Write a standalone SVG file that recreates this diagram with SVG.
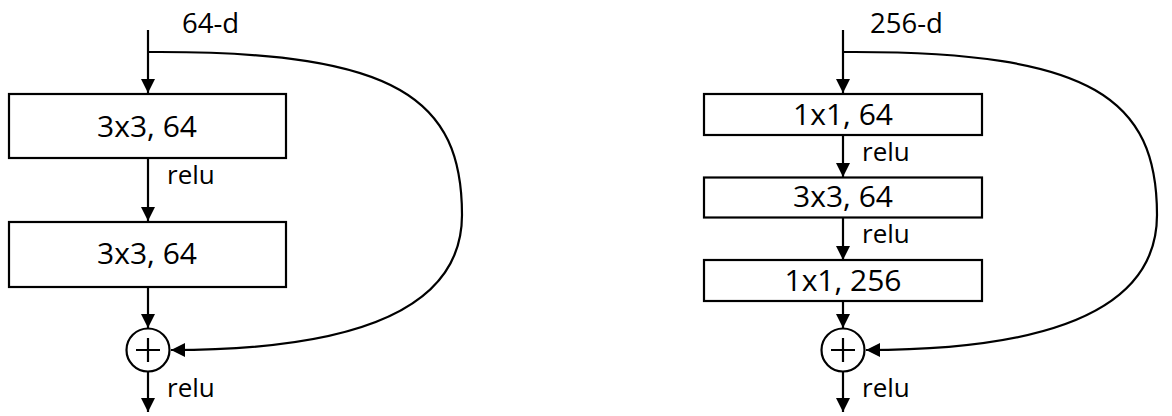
<svg xmlns="http://www.w3.org/2000/svg" width="1172" height="416" viewBox="0 0 1172 416">
<style>
.box{fill:#fff;stroke:#000;stroke-width:2.2}
.ln{fill:none;stroke:#000;stroke-width:2.2}
.t{font-family:"Open Sans","Liberation Sans",sans-serif;fill:#000}
.bt{font-size:30px;text-anchor:middle}
.lb{font-size:26px}
.hd{font-size:27.5px}
</style>
<defs>
<marker id="ah" markerUnits="userSpaceOnUse" markerWidth="14" markerHeight="14" refX="14" refY="7" orient="auto" viewBox="0 0 14 14">
<path d="M0,0 L14,7 L0,14 z" fill="#000"/>
</marker>
</defs>
<rect width="1172" height="416" fill="#fff"/>
<g id="connectors">
<path class="ln" d="M148,30 V93" marker-end="url(#ah)"/>
<path class="ln" d="M148,158 V221" marker-end="url(#ah)"/>
<path class="ln" d="M148,287 V328" marker-end="url(#ah)"/>
<path class="ln" d="M148,371 V412" marker-end="url(#ah)"/>
<path class="ln" d="M148,52 H160 C397,52 462,99 462,215 C462,283 407,350 171,350" marker-end="url(#ah)"/>
<path class="ln" d="M843,30 V93" marker-end="url(#ah)"/>
<path class="ln" d="M843,135 V177" marker-end="url(#ah)"/>
<path class="ln" d="M843,218 V260" marker-end="url(#ah)"/>
<path class="ln" d="M843,301 V328" marker-end="url(#ah)"/>
<path class="ln" d="M843,371 V412" marker-end="url(#ah)"/>
<path class="ln" d="M843,52 H855 C1092,52 1157,99 1157,215 C1157,283 1102,350 866,350" marker-end="url(#ah)"/>
</g>
<g id="label-64d"><text class="t hd" x="182" y="33">64-d</text></g>
<g id="label-256d"><text class="t hd" x="870" y="33">256-d</text></g>
<g id="left-conv1">
<rect class="box" x="9" y="94" width="277" height="64"/>
<text class="t bt" x="147" y="136.5">3x3, 64</text>
</g>
<g id="left-relu1"><text class="t lb" x="167" y="184">relu</text></g>
<g id="left-conv2">
<rect class="box" x="9" y="222" width="277" height="65"/>
<text class="t bt" x="147" y="264">3x3, 64</text>
</g>
<g id="left-add">
<circle class="ln" cx="148" cy="350" r="21.5"/>
<path class="ln" d="M136,350 H160 M148,338 V362"/>
</g>
<g id="left-relu2"><text class="t lb" x="167" y="397">relu</text></g>
<g id="right-conv1">
<rect class="box" x="704" y="94" width="278" height="41"/>
<text class="t bt" x="843" y="124.5">1x1, 64</text>
</g>
<g id="right-relu1"><text class="t lb" x="862" y="161">relu</text></g>
<g id="right-conv2">
<rect class="box" x="704" y="177.5" width="278" height="40"/>
<text class="t bt" x="843" y="207">3x3, 64</text>
</g>
<g id="right-relu2"><text class="t lb" x="862" y="243">relu</text></g>
<g id="right-conv3">
<rect class="box" x="704" y="260" width="278" height="41"/>
<text class="t bt" x="843" y="290.5">1x1, 256</text>
</g>
<g id="right-add">
<circle class="ln" cx="843" cy="350" r="21.5"/>
<path class="ln" d="M831,350 H855 M843,338 V362"/>
</g>
<g id="right-relu3"><text class="t lb" x="862" y="397">relu</text></g>
</svg>
